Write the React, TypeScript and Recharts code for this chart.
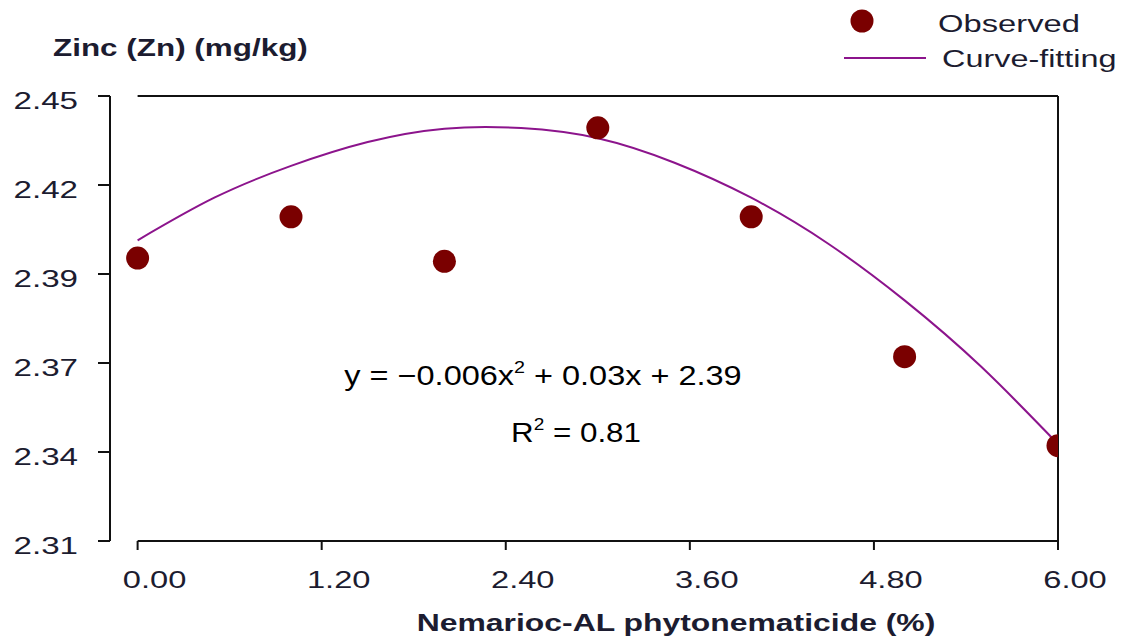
import React from "react";
import {
  ComposedChart,
  Line,
  Scatter,
  XAxis,
  YAxis,
  ReferenceLine,
} from "recharts";

// observed zinc values
const doseLevels = [0, 1, 2, 3, 4, 5, 6];
const zincObserved = [2.399, 2.412, 2.398, 2.44, 2.412, 2.368, 2.34];

// fitted curve
const curveX = [0, 0.5, 1, 1.5, 2, 2.5, 3, 3.5, 4, 4.5, 5, 5.5, 6];
const curveY = [
  2.4046, 2.418, 2.428, 2.4355, 2.4397, 2.4399, 2.4367, 2.429, 2.418, 2.4036,
  2.3857, 2.3648, 2.3405,
];

const xTicks = [0, 1.2, 2.4, 3.6, 4.8, 6];
const yTicks = [2.31, 2.338, 2.366, 2.394, 2.422, 2.45];

const FONT = "'Liberation Sans', Arial, sans-serif";
const DOT = "#7a0000";
const CURVE = "#8c148c";
const INK = "#1c1c30";

const observed = doseLevels.map((x, i) => ({ x, y: zincObserved[i] }));
const curve = curveX.map((x, i) => ({ x, y: curveY[i] }));

function YTick(props: any) {
  const { x, y, payload } = props;
  return (
    <g transform={`translate(${x},${y + 5}) scale(1.38,1)`}>
      <text
        textAnchor="end"
        dominantBaseline="central"
        fontSize={24}
        fontFamily={FONT}
        fill={INK}
      >
        {Number(payload.value).toFixed(2)}
      </text>
    </g>
  );
}

function XTick(props: any) {
  const { x, y, payload } = props;
  return (
    <g transform={`translate(${x + 17},${y + 38}) scale(1.36,1)`}>
      <text textAnchor="middle" fontSize={24} fontFamily={FONT} fill={INK}>
        {Number(payload.value).toFixed(2)}
      </text>
    </g>
  );
}

function DotShape(props: any) {
  return <circle cx={props.cx} cy={props.cy} r={11.5} fill={DOT} />;
}

function YTitle(props: any) {
  const vb = props.viewBox;
  return (
    <g transform={`translate(53,${vb.y - 40}) scale(1.31,1)`}>
      <text fontSize={24} fontWeight="bold" fontFamily={FONT} fill={INK}>
        Zinc (Zn) (mg/kg)
      </text>
    </g>
  );
}

function XTitle(props: any) {
  const vb = props.viewBox;
  return (
    <g transform={`translate(${vb.x + 566},${vb.y + 90}) scale(1.33,1)`}>
      <text
        textAnchor="middle"
        fontSize={24}
        fontWeight="bold"
        fontFamily={FONT}
        fill={INK}
      >
        Nemarioc-AL phytonematicide (%)
      </text>
    </g>
  );
}

export default function App() {
  return (
    <div style={{ position: "absolute", left: 0, top: 0, width: 1122, height: 639 }}>
      <ComposedChart
        width={1122}
        height={639}
        margin={{ top: 96, right: 64, bottom: 0, left: 0 }}
      >
        <XAxis
          type="number"
          dataKey="x"
          domain={[-0.18, 6]}
          ticks={xTicks}
          allowDataOverflow
          axisLine={false}
          tickLine={{ stroke: "#111", strokeWidth: 2 }}
          tickSize={9}
          tickMargin={0}
          height={98}
          tick={<XTick />}
          label={{ content: <XTitle /> }}
        />
        <YAxis
          type="number"
          dataKey="y"
          domain={[2.31, 2.45]}
          ticks={yTicks}
          allowDataOverflow
          width={110}
          axisLine={{ stroke: "#111", strokeWidth: 2 }}
          tickLine={{ stroke: "#111", strokeWidth: 2 }}
          tickSize={12}
          tickMargin={20}
          tick={<YTick />}
          label={{ content: <YTitle /> }}
        />
        <ReferenceLine
          segment={[
            { x: 0, y: 2.31 },
            { x: 6, y: 2.31 },
          ]}
          stroke="#111"
          strokeWidth={2}
        />
        <ReferenceLine
          segment={[
            { x: 0, y: 2.45 },
            { x: 6, y: 2.45 },
          ]}
          stroke="#111"
          strokeWidth={2}
        />
        <ReferenceLine x={6} stroke="#111" strokeWidth={2} />
        <Line
          data={curve}
          dataKey="y"
          type="natural"
          stroke={CURVE}
          strokeWidth={2}
          dot={false}
          activeDot={false}
          isAnimationActive={false}
        />
        <Scatter
          data={observed}
          dataKey="y"
          fill={DOT}
          shape={<DotShape />}
          isAnimationActive={false}
        />
      </ComposedChart>

      <svg
        width={1122}
        height={639}
        style={{ position: "absolute", left: 0, top: 0, pointerEvents: "none" }}
      >
        {/* legend */}
        <circle cx={862} cy={21} r={11.5} fill={DOT} />
        <g transform="translate(938,32) scale(1.365,1)">
          <text fontSize={24} fontFamily={FONT} fill={INK}>
            Observed
          </text>
        </g>
        <line x1={844} x2={926} y1={58} y2={58} stroke={CURVE} strokeWidth={2} />
        <g transform="translate(942,67) scale(1.35,1)">
          <text fontSize={24} fontFamily={FONT} fill={INK}>
            Curve-fitting
          </text>
        </g>

        {/* fitted equation */}
        <g transform="translate(543,385) scale(1.16,1)">
          <text textAnchor="middle" fontSize={28} fontFamily={FONT} fill="#000" xmlSpace="preserve">
            y = {"\u2212"}0.006x
            <tspan dy={-12} fontSize={17}>2</tspan>
            <tspan dy={12}> + 0.03x + 2.39</tspan>
          </text>
        </g>
        <g transform="translate(576,442) scale(1.12,1)">
          <text textAnchor="middle" fontSize={28} fontFamily={FONT} fill="#000" xmlSpace="preserve">
            R<tspan dy={-12} fontSize={17}>2</tspan>
            <tspan dy={12}> = 0.81</tspan>
          </text>
        </g>
      </svg>
    </div>
  );
}
